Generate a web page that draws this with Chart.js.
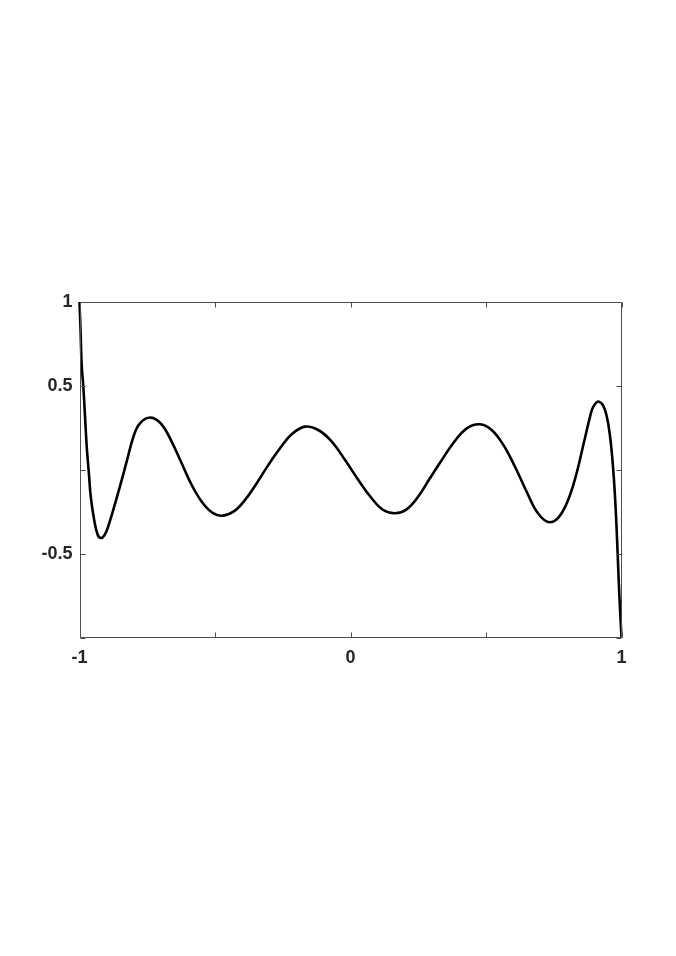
<!DOCTYPE html>
<html>
<head>
<meta charset="utf-8">
<script src="https://cdn.jsdelivr.net/npm/chart.js@4/dist/chart.umd.min.js"></script>
<style>
  html, body { margin: 0; padding: 0; background: #ffffff; }
  #wrap { width: 676px; height: 956px; }
</style>
</head>
<body>
<div id="wrap"><canvas id="c" width="676" height="956"></canvas></div>
<script>
// Curve samples
const xValues = [-1.000, -0.996, -0.992, -0.986, -0.980, -0.973, -0.966, -0.958,
  -0.945, -0.933, -0.921, -0.908, -0.896, -0.880, -0.851, -0.826, -0.801, -0.777, -0.737,
  -0.697, -0.660, -0.623, -0.586, -0.549, -0.512, -0.475, -0.432, -0.389, -0.346,
  -0.303, -0.260, -0.217, -0.168, -0.119, -0.069, -0.020, 0.029, 0.078, 0.121,
  0.164, 0.207, 0.250, 0.293, 0.337, 0.379, 0.429, 0.478, 0.521, 0.564, 0.607,
  0.650, 0.693, 0.736, 0.779, 0.822, 0.865, 0.884, 0.896, 0.917, 0.939, 0.957,
  0.970, 0.979, 0.986, 0.992, 1.000];
const yValues = [1.000, 0.826, 0.627, 0.498, 0.329, 0.130, -0.009, -0.168,
  -0.307, -0.387, -0.407, -0.390, -0.347, -0.264, -0.101, 0.048, 0.197, 0.277, 0.311,
  0.271, 0.168, 0.039, -0.091, -0.190, -0.253, -0.274, -0.250, -0.180, -0.080,
  0.029, 0.128, 0.212, 0.257, 0.237, 0.168, 0.058, -0.061, -0.170, -0.240,
  -0.259, -0.236, -0.160, -0.051, 0.058, 0.158, 0.247, 0.271, 0.237, 0.148, 0.018,
  -0.131, -0.262, -0.313, -0.259, -0.091, 0.188, 0.317, 0.376, 0.406, 0.357, 0.207,
  -0.011, -0.250, -0.508, -0.747, -1.000];

// Axis ticks and which of them carry labels
const xTickValues = [-1, -0.5, 0, 0.5, 1];
const xTickLabels = ['-1', '', '0', '', '1'];
const yTickValues = [-1, -0.5, 0, 0.5, 1];
const yTickLabels = ['', '-0.5', '', '0.5', '1'];

const points = xValues.map((x, i) => ({ x: x, y: yValues[i] }));

const axisColor = '#262626';
const tickFont = { family: '"Liberation Sans", Arial, Helvetica, sans-serif', size: 18, weight: 'bold' };

// Draws the MATLAB-style box and inward tick marks from the scales
const boxPlugin = {
  id: 'boxTicks',
  afterDraw(chart) {
    const { ctx, chartArea: a, scales } = chart;
    const L = Math.round(a.left) + 0.5, R = Math.round(a.right) - 0.5;
    const T = Math.round(a.top) + 0.5, B = Math.round(a.bottom) - 0.5;
    ctx.save();
    ctx.strokeStyle = '#4d4d4d';
    ctx.lineWidth = 1;
    ctx.beginPath();
    ctx.rect(L, T, R - L, B - T);
    ctx.stroke();
    const len = 5;
    ctx.beginPath();
    xTickValues.forEach(v => {
      const px = Math.round(scales.x.getPixelForValue(v)) + 0.5;
      ctx.moveTo(px, B); ctx.lineTo(px, B - len);
      ctx.moveTo(px, T); ctx.lineTo(px, T + len);
    });
    yTickValues.forEach(v => {
      const py = Math.round(scales.y.getPixelForValue(v)) + 0.5;
      ctx.moveTo(L, py); ctx.lineTo(L + len, py);
      ctx.moveTo(R, py); ctx.lineTo(R - len, py);
    });
    ctx.stroke();
    ctx.restore();
  }
};

new Chart(document.getElementById('c'), {
  type: 'line',
  data: {
    datasets: [{
      data: points,
      borderColor: '#000000',
      borderWidth: 2.6,
      pointRadius: 0,
      fill: false,
      tension: 0.4,
      clip: 4
    }]
  },
  options: {
    responsive: false,
    animation: false,
    events: [],
    layout: { padding: { left: 0, top: 302, right: 54.5, bottom: 288.5 } },
    plugins: { legend: { display: false }, tooltip: { enabled: false } },
    scales: {
      x: {
        type: 'linear',
        min: -1, max: 1,
        afterBuildTicks: s => { s.ticks = xTickValues.map(v => ({ value: v })); },
        afterFit: s => { s.height = 30; },
        grid: { display: false, drawTicks: false },
        border: { display: false },
        ticks: {
          autoSkip: false,
          maxRotation: 0,
          padding: 10,
          color: axisColor,
          font: tickFont,
          callback: (v) => { const i = xTickValues.indexOf(v); return i >= 0 ? xTickLabels[i] : ''; }
        }
      },
      y: {
        type: 'linear',
        min: -1, max: 1,
        afterBuildTicks: s => { s.ticks = yTickValues.map(v => ({ value: v })); },
        afterFit: s => { s.width = 79.5; },
        grid: { display: false, drawTicks: false },
        border: { display: false },
        ticks: {
          autoSkip: false,
          padding: 7,
          color: axisColor,
          font: tickFont,
          callback: (v) => { const i = yTickValues.indexOf(v); return i >= 0 ? yTickLabels[i] : ''; }
        }
      }
    }
  },
  plugins: [boxPlugin]
});
</script>
</body>
</html>
